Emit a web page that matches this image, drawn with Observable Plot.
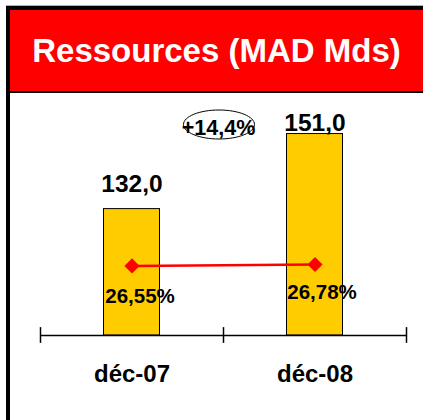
<!DOCTYPE html>
<html>
<head>
<meta charset="utf-8">
<script src="https://cdn.jsdelivr.net/npm/d3@7"></script>
<script src="https://cdn.jsdelivr.net/npm/@observablehq/plot@0.6"></script>
<style>
  html, body { margin: 0; padding: 0; background: white; }
  #wrap { position: relative; width: 423px; height: 420px; overflow: hidden; font-family: "Liberation Sans", Arial, sans-serif; }
  #wrap svg { position: absolute; left: 0; top: 0; }
  .blk { position: absolute; }
  #title { position: absolute; left: 10px; width: 413px; top: 34px; line-height: 33px; font-size: 33px; font-weight: bold; color: white; text-align: center; white-space: nowrap; }
</style>
</head>
<body>
<div id="wrap">
  <div id="chart"></div>
  <div class="blk" style="left:6px;top:5px;width:417px;height:1px;background:#b0b0b0"></div>
  <div class="blk" style="left:6px;top:6px;width:417px;height:4px;background:#000"></div>
  <div class="blk" style="left:6px;top:6px;width:4px;height:414px;background:#000"></div>
  <div class="blk" style="left:10px;top:10px;width:413px;height:81px;background:#ff0000"></div>
  <div class="blk" style="left:10px;top:91px;width:413px;height:2px;background:#000"></div>
  <div id="title">Ressources (MAD Mds)</div>
</div>
<script>
const categories = ["déc-07", "déc-08"];
const resources = [132.0, 151.0];
const ratios = [26.55, 26.78];
const titleText = "Ressources (MAD Mds)";

const n = categories.length;
const data = categories.map((c, i) => ({i, category: c, value: resources[i], ratio: ratios[i]}));
const fmt1 = v => v.toFixed(1).replace(".", ",");
const fmtPct = v => v.toFixed(2).replace(".", ",") + "%";
const growth = (resources[1] / resources[0] - 1) * 100;
const growthLabel = (growth >= 0 ? "+" : "") + growth.toFixed(1).replace(".", ",") + "%";

// secondary axis (ratio %) mapped onto the primary y domain
const yDomain = [100, 160];
const pctScale = d3.scaleLinear().domain([15.3, 53.6]).range(yDomain);
const center = d => d.i + 0.5;
const halfW = 0.153;

const font = '"Liberation Sans", Arial, sans-serif';

const ellipse = {
  draw(ctx) {
    const rx = 35.5, ry = 14.5, k = 0.5523;
    ctx.moveTo(rx, 0);
    ctx.bezierCurveTo(rx, ry * k, rx * k, ry, 0, ry);
    ctx.bezierCurveTo(-rx * k, ry, -rx, ry * k, -rx, 0);
    ctx.bezierCurveTo(-rx, -ry * k, -rx * k, -ry, 0, -ry);
    ctx.bezierCurveTo(rx * k, -ry, rx, -ry * k, rx, 0);
    ctx.closePath();
  }
};

const valueDy = [-24.5, -10.5];
const pctOffsets = [[8, 31], [7, 28]];

const marks = [
  Plot.rectY(data, {x1: d => center(d) - halfW, x2: d => center(d) + halfW, y1: yDomain[0], y2: "value", fill: "#FFCC00", stroke: "black", strokeWidth: 1}),
  Plot.ruleY([yDomain[0]], {x1: 0, x2: n, stroke: "black", strokeWidth: 1.5}),
  Plot.ruleX(d3.range(n + 1), {y1: 98, y2: 102, stroke: "black", strokeWidth: 1.5}),
  Plot.line(data, {x: center, y: d => pctScale(d.ratio), stroke: "red", strokeWidth: 2.5}),
  Plot.dot(data, {x: center, y: d => pctScale(d.ratio), symbol: "diamond2", r: 6.8, fill: "red", stroke: "none"}),
  Plot.text(data, {x: center, y: yDomain[0], text: "category", dy: 39, fontSize: 24, fontWeight: "bold", fill: "black"}),
  Plot.dot([growth], {x: 1, y: yDomain[1], dx: -4.5, dy: 26, symbol: ellipse, r: 10, fill: "none", stroke: "black", strokeWidth: 1}),
  Plot.text([growthLabel], {x: 1, y: yDomain[1], text: d => d, dx: -5, dy: 29.5, fontSize: 21.5, fontWeight: "bold", fill: "black"})
];
data.forEach((d, i) => {
  marks.push(Plot.text([d], {x: center, y: "value", text: v => fmt1(v.value), dy: valueDy[i], fontSize: 24.5, fontWeight: "bold", fill: "black"}));
  marks.push(Plot.text([d], {x: center, y: v => pctScale(v.ratio), text: v => fmtPct(v.ratio), dx: pctOffsets[i][0], dy: pctOffsets[i][1], fontSize: 20.5, fontWeight: "bold", fill: "black"}));
});

const chart = Plot.plot({
  width: 423,
  height: 420,
  marginTop: 98,
  marginBottom: 85,
  marginLeft: 40,
  marginRight: 17,
  x: {domain: [0, n], axis: null},
  y: {domain: yDomain, axis: null},
  style: {fontFamily: font, background: "white"},
  marks
});
document.getElementById("chart").appendChild(chart);
</script>
</body>
</html>
